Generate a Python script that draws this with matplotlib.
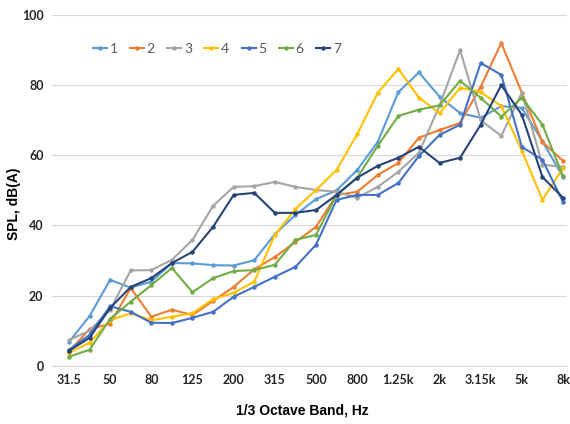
import matplotlib
matplotlib.use("Agg")
import matplotlib.pyplot as plt

# 1/3 octave bands
bands = ["31.5", "40", "50", "63", "80", "100", "125", "160", "200", "250",
         "315", "400", "500", "630", "800", "1k", "1.25k", "1.6k", "2k", "2.5k",
         "3.15k", "4k", "5k", "6.3k", "8k"]

s1 = [6.8, 14.2, 24.5, 22.3, 24, 29.3, 29.2, 28.7, 28.6, 30.1, 37.5, 43, 47.5,
      50, 55.8, 63.8, 78, 83.6, 76.7, 72, 70.7, 74, 73.5, 64, 53.8]
s2 = [4, 10.5, 12, 22.2, 14, 16, 14.5, 18.5, 22.5, 27.5, 31, 35.3, 39.6,
      48.7, 49.6, 54.4, 57.8, 65, 67.2, 69.2, 79.5, 92, 77.8, 63.8, 58.4]
s3 = [7.4, 10, 16, 27.2, 27.3, 30.2, 35.9, 45.6, 51, 51.2, 52.4, 51, 50.1,
      49.6, 47.9, 51, 55.3, 60.7, 74.2, 90, 70, 65.5, 77.8, 57.3, 56.7]
s4 = [3.7, 6.6, 13, 15, 13, 14, 15, 19, 20.8, 24, 37.3, 44.7, 50.1,
      55.8, 66, 77.8, 84.6, 76.4, 72, 79.2, 78, 74, 61.3, 47.3, 56.4]
s5 = [4.6, 8.8, 17, 15.4, 12.3, 12.2, 13.7, 15.4, 19.7, 22.5, 25.4, 28.2, 34.5,
      47.3, 48.7, 48.7, 52.1, 59.8, 65.8, 68.7, 86.3, 82.9, 62.4, 58.7, 46.7]
s6 = [2.6, 4.6, 13.4, 18.3, 23, 27.9, 21, 25, 27, 27.3, 28.8, 35.9, 37.3,
      48.7, 53.6, 62.7, 71.2, 73, 74.2, 81.2, 76.4, 71, 76.4, 68.7, 54]
s7 = [4.3, 8, 16.5, 22.5, 25, 29.3, 32.5, 39.6, 48.7, 49.3, 43.6, 43.6, 44.4,
      48.7, 53.6, 57, 59.3, 62.4, 57.8, 59.3, 68.7, 80, 71.5, 53.8, 47.9]

series = [s1, s2, s3, s4, s5, s6, s7]
names = ["1", "2", "3", "4", "5", "6", "7"]
colors = ["#5B9BD5", "#ED7D31", "#A5A5A5", "#FFC000", "#4472C4", "#70AD47", "#264478"]

fig = plt.figure(figsize=(5.7, 4.24), dpi=100)
ax = fig.add_axes([0.091, 0.137, 0.904, 0.828])

x = list(range(len(bands)))
for vals, name, c in zip(series, names, colors):
    ax.plot(x, vals, color=c, linewidth=1.5, marker="o", markersize=2.2, label=name)

ax.set_ylim(0, 100)
ax.set_xlim(-0.83, 24.2)
ax.set_yticks([0, 20, 40, 60, 80, 100])
ax.set_xticks(x[::2])
ax.set_xticklabels(bands[::2])
ax.grid(True, axis="y", color="#D9D9D9", linewidth=0.8)
ax.set_axisbelow(True)
for side in ["top", "right", "left"]:
    ax.spines[side].set_visible(False)
ax.spines["bottom"].set_color("#D9D9D9")
ax.tick_params(length=0, labelsize=9, pad=6)
for lab in ax.get_xticklabels() + ax.get_yticklabels():
    lab.set_fontfamily("Lato")
    lab.set_fontweight("bold")
    lab.set_color("#262626")

# axis titles placed in figure coords so they stay inside the canvas
fig.text(0.024, 0.52, "SPL, dB(A)", rotation=90, ha="center", va="center",
         fontsize=10, fontweight="bold", family="Liberation Sans")
fig.text(0.53, 0.033, "1/3 Octave Band, Hz", ha="center", va="center",
         fontsize=10, fontweight="bold", family="Liberation Sans")

leg = ax.legend(loc="upper left", bbox_to_anchor=(0.055, 0.955), ncol=7, frameon=False,
                handlelength=1.0, handletextpad=0.2, columnspacing=0.9,
                prop={"family": "Lato", "size": 10})
for t in leg.get_texts():
    t.set_color("#595959")

fig.savefig("out.png", dpi=100)
